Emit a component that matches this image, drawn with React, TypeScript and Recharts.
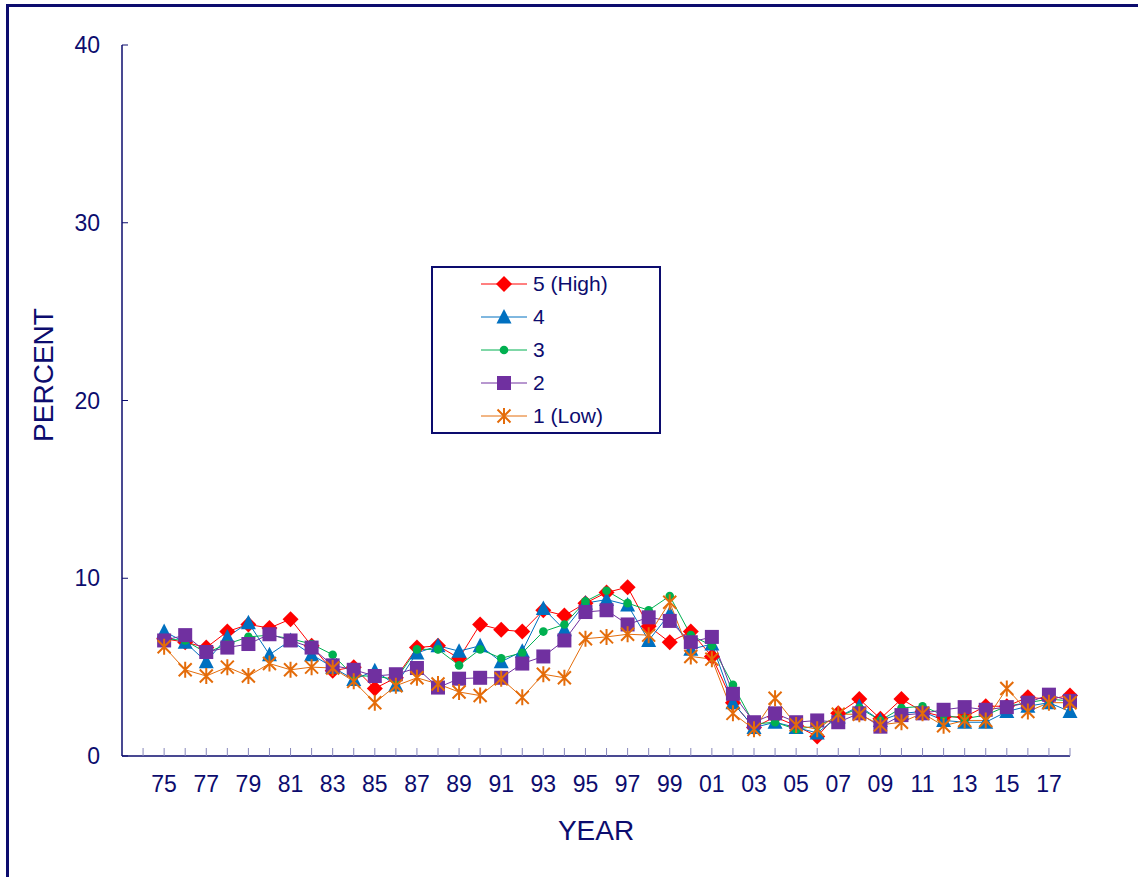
import React from "react";
import { Line, LineChart, XAxis, YAxis } from "recharts";

const years = [
  1975, 1976, 1977, 1978, 1979, 1980, 1981, 1982, 1983, 1984, 1985, 1986, 1987, 1988, 1989,
  1990, 1991, 1992, 1993, 1994, 1995, 1996, 1997, 1998, 1999, 2000, 2001, 2002, 2003, 2004,
  2005, 2006, 2007, 2008, 2009, 2010, 2011, 2012, 2013, 2014, 2015, 2016, 2017, 2018
];

const high5 = [
  6.6, 6.4, 6.1, 7.0, 7.4, 7.2, 7.7, 6.2, 4.8, 5.0, 3.8, 4.4, 6.1, 6.2, 5.5,
  7.4, 7.1, 7.0, 8.2, 7.9, 8.6, 9.2, 9.5, 7.3, 6.4, 7.0, 5.6, 3.0, 1.6, 2.2,
  1.7, 1.1, 2.4, 3.2, 2.1, 3.2, 2.5, 2.2, 2.2, 2.8, 2.8, 3.3, 3.2, 3.4
];
const q4 = [
  7.0, 6.4, 5.3, 6.7, 7.5, 5.7, 6.5, 5.7, 5.0, 4.3, 4.8, 4.0, 5.8, 6.2, 5.9,
  6.2, 5.3, 5.9, 8.3, 7.1, 8.6, 8.8, 8.5, 6.5, 8.0, 6.0, 6.3, 3.0, 1.6, 1.9,
  1.6, 1.3, 2.2, 2.8, 2.0, 2.4, 2.5, 2.0, 1.9, 1.9, 2.5, 2.8, 3.0, 2.5
];
const q3 = [
  6.6, 6.5, 5.8, 6.3, 6.7, 6.8, 6.6, 6.3, 5.7, 4.5, 4.5, 4.3, 6.0, 6.0, 5.1,
  6.0, 5.5, 5.8, 7.0, 7.4, 8.7, 9.3, 8.6, 8.2, 9.0, 6.8, 6.2, 4.0, 1.8, 1.9,
  1.5, 1.7, 2.2, 2.7, 2.0, 2.7, 2.8, 2.3, 2.1, 2.3, 2.8, 3.0, 3.2, 3.1
];
const q2 = [
  6.5, 6.8, 5.85, 6.1, 6.3, 6.85, 6.5, 6.1, 5.1, 4.85, 4.5, 4.6, 4.95, 3.85, 4.35,
  4.4, 4.4, 5.2, 5.6, 6.5, 8.1, 8.2, 7.4, 7.8, 7.6, 6.4, 6.7, 3.5, 1.9, 2.4,
  1.9, 2.0, 1.9, 2.4, 1.65, 2.3, 2.4, 2.6, 2.75, 2.6, 2.75, 3.0, 3.45, 3.1
];
const low1 = [
  6.15, 4.85, 4.5, 5.0, 4.5, 5.2, 4.85, 5.0, 4.95, 4.2, 3.0, 3.95, 4.4, 4.05, 3.6,
  3.4, 4.35, 3.3, 4.6, 4.4, 6.6, 6.7, 6.85, 6.8, 8.65, 5.6, 5.45, 2.4, 1.5, 3.25,
  1.75, 1.5, 2.35, 2.35, 1.75, 1.9, 2.4, 1.7, 2.0, 2.0, 3.8, 2.5, 3.0, 3.0
];

// tick marks every year, labels on odd years only
const xTicks = [
  1974, 1975, 1976, 1977, 1978, 1979, 1980, 1981, 1982, 1983, 1984, 1985, 1986, 1987, 1988,
  1989, 1990, 1991, 1992, 1993, 1994, 1995, 1996, 1997, 1998, 1999, 2000, 2001, 2002, 2003,
  2004, 2005, 2006, 2007, 2008, 2009, 2010, 2011, 2012, 2013, 2014, 2015, 2016, 2017, 2018
];
const yTicks = [0, 10, 20, 30, 40];

const NAVY = "#0c0c6e";
const FONT = "'Liberation Sans', Arial, sans-serif";

const rows = years.map((year, i) => ({
  year,
  s5: high5[i],
  s4: q4[i],
  s3: q3[i],
  s2: q2[i],
  s1: low1[i]
}));

type Shape = "diamond" | "triangle" | "circle" | "square" | "star";

function Marker({ shape, color, cx, cy }: { shape: Shape; color: string; cx: number; cy: number }) {
  const t = `translate(${cx},${cy})`;
  if (shape === "diamond") return <path transform={t} d="M0,-8L8,0L0,8L-8,0Z" fill={color} />;
  if (shape === "triangle") return <path transform={t} d="M0,-8L7.5,6.5L-7.5,6.5Z" fill={color} />;
  if (shape === "circle") return <circle cx={cx} cy={cy} r={4.3} fill={color} />;
  if (shape === "square") return <rect x={cx - 7} y={cy - 7} width={14} height={14} fill={color} />;
  return (
    <path
      transform={t}
      d="M-6.5,-6.5L6.5,6.5M-6.5,6.5L6.5,-6.5M0,-8L0,8"
      stroke={color}
      strokeWidth={2}
      fill="none"
    />
  );
}

const series: { key: string; name: string; color: string; shape: Shape }[] = [
  { key: "s5", name: "5 (High)", color: "#ff0000", shape: "diamond" },
  { key: "s4", name: "4", color: "#0070c0", shape: "triangle" },
  { key: "s3", name: "3", color: "#00b050", shape: "circle" },
  { key: "s2", name: "2", color: "#7030a0", shape: "square" },
  { key: "s1", name: "1 (Low)", color: "#e46c0a", shape: "star" }
];

function XTick(props: any) {
  const { x, y, payload } = props;
  const yr = payload.value as number;
  return (
    <g>
      <line x1={x} x2={x} y1={y} y2={y - 8} stroke="#8888bb" strokeWidth={1} />
      {yr % 2 === 1 && (
        <text x={x} y={y + 36} textAnchor="middle" fill={NAVY} fontSize={23} fontFamily={FONT}>
          {String(yr % 100).padStart(2, "0")}
        </text>
      )}
    </g>
  );
}

function YTick(props: any) {
  const { x, y, payload } = props;
  return (
    <g>
      <line x1={x} x2={x + 6} y1={y} y2={y} stroke={NAVY} strokeWidth={1} />
      <text x={x - 22} y={y + 8} textAnchor="end" fill={NAVY} fontSize={23} fontFamily={FONT}>
        {payload.value}
      </text>
    </g>
  );
}

export default function App() {
  return (
    <div
      style={{
        position: "fixed",
        left: 0,
        top: 0,
        width: 1138,
        height: 877,
        overflow: "hidden",
        background: "#fff",
        fontFamily: FONT
      }}
    >
      <div
        style={{
          position: "absolute",
          left: 6,
          top: 4,
          width: 1200,
          height: 1000,
          border: `3px solid ${NAVY}`
        }}
      />
      <div style={{ position: "absolute", left: 0, top: 0 }}>
        <LineChart width={1138} height={877} data={rows} margin={{ top: 45, right: 68, bottom: 81, left: 82 }}>
          <XAxis
            dataKey="year"
            type="number"
            domain={[1973, 2018]}
            ticks={xTicks}
            interval={0}
            height={40}
            tickSize={0}
            tickMargin={0}
            tickLine={false}
            tick={<XTick />}
            axisLine={{ stroke: NAVY, strokeWidth: 1.5 }}
          />
          <YAxis
            type="number"
            domain={[0, 40]}
            ticks={yTicks}
            interval={0}
            width={40}
            tickSize={0}
            tickMargin={0}
            tickLine={false}
            tick={<YTick />}
            axisLine={{ stroke: NAVY, strokeWidth: 1.5 }}
          />
          {series.map((s) => (
            <Line
              key={s.key}
              dataKey={s.key}
              name={s.name}
              type="linear"
              stroke={s.color}
              strokeWidth={1}
              isAnimationActive={false}
              activeDot={false}
              dot={(p: any) => (
                <Marker key={`${s.key}-${p.index}`} shape={s.shape} color={s.color} cx={p.cx} cy={p.cy} />
              )}
            />
          ))}
        </LineChart>
      </div>
      <svg
        width={1138}
        height={877}
        style={{ position: "absolute", left: 0, top: 0, pointerEvents: "none" }}
      >
        <text
          transform="translate(53,375) rotate(-90)"
          textAnchor="middle"
          fill={NAVY}
          fontSize={28}
          fontFamily={FONT}
        >
          PERCENT
        </text>
        <text x={596} y={840} textAnchor="middle" fill={NAVY} fontSize={28} fontFamily={FONT}>
          YEAR
        </text>
        <rect x={432} y={267} width={228} height={166} fill="#fff" stroke={NAVY} strokeWidth={2} />
        {series.map((s, i) => {
          const cy = 284 + i * 33;
          return (
            <g key={s.key}>
              <line x1={481} x2={527} y1={cy} y2={cy} stroke={s.color} strokeWidth={1} />
              <Marker shape={s.shape} color={s.color} cx={504} cy={cy} />
              <text x={533} y={cy + 7} fill={NAVY} fontSize={21} fontFamily={FONT}>
                {s.name}
              </text>
            </g>
          );
        })}
      </svg>
    </div>
  );
}
